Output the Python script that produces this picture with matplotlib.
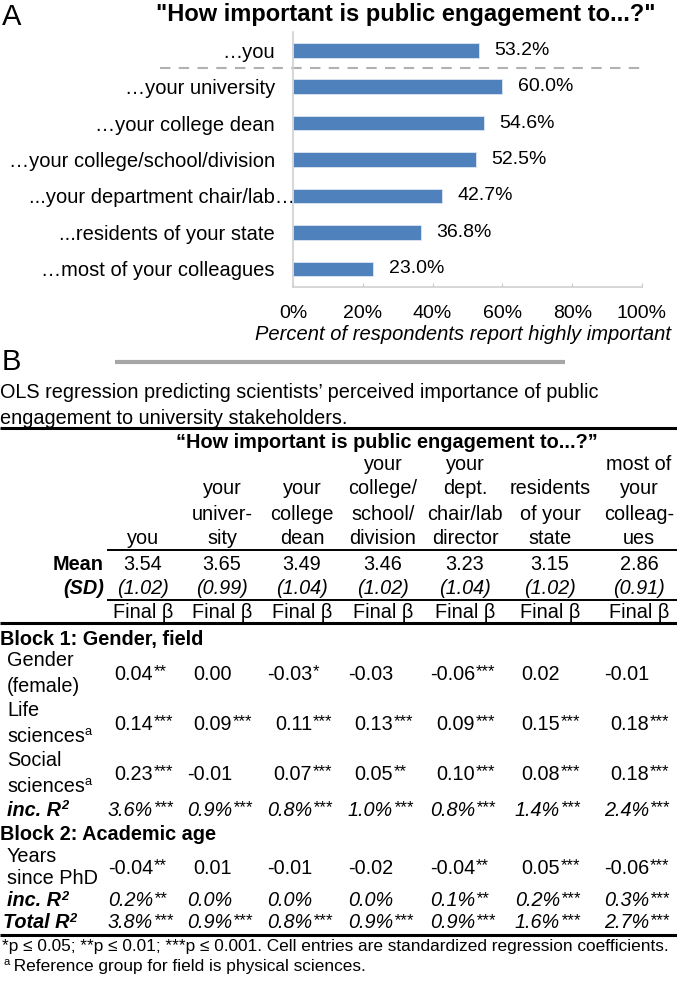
import numpy as np
import matplotlib.pyplot as plt
from matplotlib.transforms import ScaledTranslation

plt.rcParams['font.family'] = ['Liberation Sans', 'DejaVu Sans']

# ---- panel A data ----
targets = ["…you", "…your university", "…your college dean",
           "…your college/school/division", "...your department chair/lab…",
           "...residents of your state", "…most of your colleagues"]
pct_high = [53.2, 60.0, 54.6, 52.5, 42.7, 36.8, 23.0]
x_ticks = [0, 20, 40, 60, 80, 100]

# ---- panel B data ----
col_heads = ["you", "your\nuniver-\nsity", "your\ncollege\ndean",
             "your\ncollege/\nschool/\ndivision", "your\ndept.\nchair/lab\ndirector",
             "residents\nof your\nstate", "most of\nyour\ncolleag-\nues"]
means = [3.54, 3.65, 3.49, 3.46, 3.23, 3.15, 2.86]
sds = [1.02, 0.99, 1.04, 1.02, 1.04, 1.02, 0.91]
gender_b = [0.04, 0.00, -0.03, -0.03, -0.06, 0.02, -0.01]
gender_p = [2, 0, 1, 0, 3, 0, 0]
life_b = [0.14, 0.09, 0.11, 0.13, 0.09, 0.15, 0.18]
life_p = [3, 3, 3, 3, 3, 3, 3]
social_b = [0.23, -0.01, 0.07, 0.05, 0.10, 0.08, 0.18]
social_p = [3, 0, 3, 2, 3, 3, 3]
inc1_r2 = [3.6, 0.9, 0.8, 1.0, 0.8, 1.4, 2.4]
inc1_p = [3, 3, 3, 3, 3, 3, 3]
years_b = [-0.04, 0.01, -0.01, -0.02, -0.04, 0.05, -0.06]
years_p = [2, 0, 0, 0, 2, 3, 3]
inc2_r2 = [0.2, 0.0, 0.0, 0.0, 0.1, 0.2, 0.3]
inc2_p = [2, 0, 0, 0, 2, 3, 3]
total_r2 = [3.8, 0.9, 0.8, 0.9, 0.9, 1.6, 2.7]
total_p = [3, 3, 3, 3, 3, 3, 3]

W, H = 677, 983
fig = plt.figure(figsize=(W / 100, H / 100), dpi=100)

# ---- A: bar chart ----
ax = fig.add_axes([293 / W, 1 - 287 / H, 349 / W, 255 / H])
y = np.arange(len(targets))
ax.barh(y, pct_high, height=0.4, color='#4f81bd', edgecolor='#dce6f2', linewidth=0.6)
ax.set_xlim(0, 100)
ax.set_ylim(6.5, -0.5)
ax.set_yticks(y, targets, fontsize=14.5)
ax.tick_params(axis='y', length=0, pad=13)
ax.set_xticks(x_ticks, [f"{t}%" for t in x_ticks])
ax.tick_params(axis='x', direction='in', length=3, color='#c8c8c8', labelsize=14, pad=13)
for s in ['top', 'right']:
    ax.spines[s].set_visible(False)
for s in ['left', 'bottom']:
    ax.spines[s].set_color('#d0d0d0')
    ax.spines[s].set_linewidth(1.2)
for i, v in enumerate(pct_high):
    ax.annotate(f"{v:.1f}%", xy=(v, i), xytext=(11, 0), textcoords='offset points',
                va='center', ha='left', fontsize=14)
ax.plot([-38, 100], [0.5, 0.5], ls=(0, (5, 4)), color='#b4b0ad', lw=1.5, clip_on=False)
lab = ax.get_yticklabels()[4]
lab.set_transform(lab.get_transform() + ScaledTranslation(0.2, 0, fig.dpi_scale_trans))

# ---- text layer in pixel coords ----
tx = fig.add_axes([0, 0, 1, 1])
tx.set_xlim(0, W)
tx.set_ylim(H, 0)
tx.axis('off')

tx.text(2, 17, "A", fontsize=21, va='center')
tx.text(406, 15, '"How important is public engagement to...?"', ha='center', va='center',
        fontsize=17, fontweight='bold')
tx.text(463, 335, "Percent of respondents report highly important", ha='center', va='center',
        fontsize=14.5, fontstyle='italic')

tx.text(2, 362, "B", fontsize=21, va='center')
tx.plot([115, 565], [362, 362], color='#a6a6a6', lw=3, solid_capstyle='butt')

fs = 14.3
tx.text(0, 393, "OLS regression predicting scientists’ perceived importance of public",
        va='center', fontsize=fs)
tx.text(0, 418, "engagement to university stakeholders.", va='center', fontsize=fs)

# rules
tx.hlines([428, 623, 935], 0, W, color='black', lw=2.2)
tx.hlines([550, 600], 107, W, color='black', lw=1.4)

tx.text(387, 443, "“How important is public engagement to...?”", ha='center', va='center',
        fontsize=fs, fontweight='bold')

col_x = [143, 222, 302, 383, 465, 550, 639]
for cx, head in zip(col_x, col_heads):
    for k, line in enumerate(reversed(head.split("\n"))):
        tx.text(cx, 539 - 25 * k, line, ha='center', va='center', fontsize=fs)

tx.text(104, 564, "Mean", ha='right', va='center', fontsize=fs, fontweight='bold')
tx.text(104, 589, "(SD)", ha='right', va='center', fontsize=fs, fontweight='bold',
        fontstyle='italic')
for cx, m, s in zip(col_x, means, sds):
    tx.text(cx, 564, f"{m:.2f}", ha='center', va='center', fontsize=fs)
    tx.text(cx, 589, f"({s:.2f})", ha='center', va='center', fontsize=fs, fontstyle='italic')
    tx.text(cx, 613, "Final β", ha='center', va='center', fontsize=fs)


def cell_row(yy, vals, sig, pct=False):
    style = 'italic' if pct else 'normal'
    for cx, v, p in zip(col_x, vals, sig):
        s = f"{v:.1f}%" if pct else f"{v:.2f}"
        t = tx.text(cx + 10, yy, s, ha='right', va='center', fontsize=fs, fontstyle=style)
        if p:
            tx.annotate("*" * p, xy=(1, 1), xycoords=t, xytext=(0.3, 0.5),
                        textcoords='offset points', ha='left', va='top',
                        fontsize=fs * 0.85, fontstyle=style)


def sup_text(x, yy, main, sup, **kw):
    t = tx.text(x, yy, main, va='center', fontsize=fs, **kw)
    tx.annotate(sup, xy=(1, 1), xycoords=t, xytext=(0, 0.5), textcoords='offset points',
                ha='left', va='top', fontsize=fs * 0.65, **kw)


tx.text(0, 640, "Block 1: Gender, field", va='center', fontsize=fs, fontweight='bold')
tx.text(7, 661, "Gender", va='center', fontsize=fs)
tx.text(7, 686, "(female)", va='center', fontsize=fs)
cell_row(674, gender_b, gender_p)
tx.text(7, 711, "Life", va='center', fontsize=fs)
sup_text(7, 736, "sciences", "a")
cell_row(724, life_b, life_p)
tx.text(7, 761, "Social", va='center', fontsize=fs)
sup_text(7, 786, "sciences", "a")
cell_row(774, social_b, social_p)
sup_text(7, 810, "inc. R", "2", fontweight='bold', fontstyle='italic')
cell_row(810, inc1_r2, inc1_p, pct=True)

tx.text(0, 834, "Block 2: Academic age", va='center', fontsize=fs, fontweight='bold')
tx.text(7, 857, "Years", va='center', fontsize=fs)
tx.text(7, 878, "since PhD", va='center', fontsize=fs)
cell_row(868, years_b, years_p)
sup_text(7, 901, "inc. R", "2", fontweight='bold', fontstyle='italic')
cell_row(901, inc2_r2, inc2_p, pct=True)
sup_text(3, 923, "Total R", "2", fontweight='bold', fontstyle='italic')
cell_row(923, total_r2, total_p, pct=True)

tx.text(2, 947, "*p ≤ 0.05; **p ≤ 0.01; ***p ≤ 0.001. Cell entries are standardized "
        "regression coefficients.", va='center', fontsize=12.4)
tx.text(3, 962, "a", va='center', fontsize=8)
tx.text(9, 967, " Reference group for field is physical sciences.", va='center', fontsize=12.4)

fig.savefig("out.png", dpi=100)
